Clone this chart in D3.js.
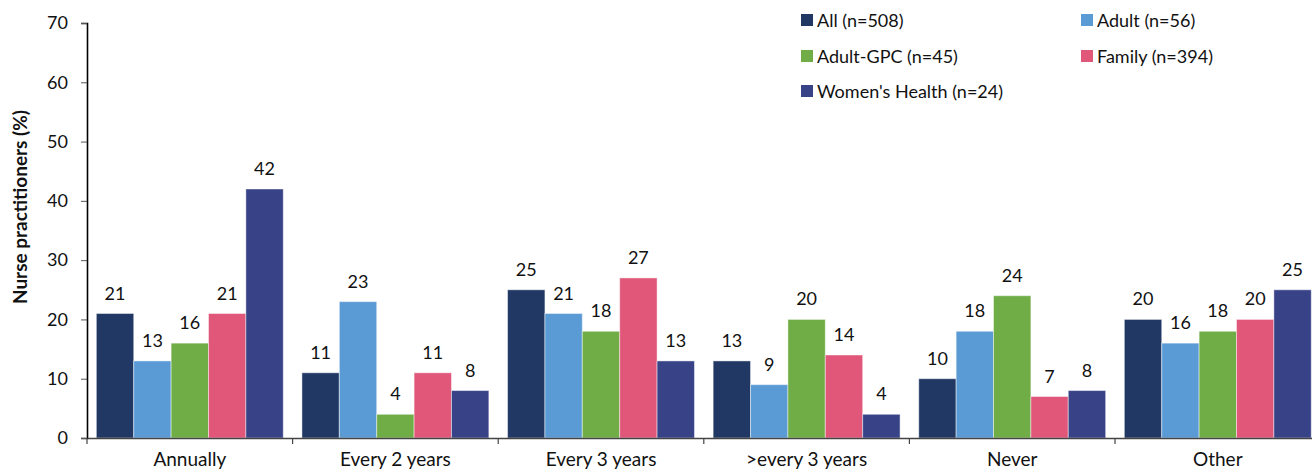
<!DOCTYPE html>
<html>
<head>
<meta charset="utf-8">
<script src="https://cdn.jsdelivr.net/npm/d3@7"></script>
<style>
  html, body { margin: 0; padding: 0; background: #fff; }
  svg { display: block; font-family: Lato, "Open Sans", "Liberation Sans", sans-serif; }
</style>
</head>
<body>
<svg id="chart" width="1312" height="472"></svg>
<script>
// Screening frequency by nurse practitioner specialty
const categories = ["Annually", "Every 2 years", "Every 3 years", ">every 3 years", "Never", "Other"];
const seriesNames = ["All (n=508)", "Adult (n=56)", "Adult-GPC (n=45)", "Family (n=394)", "Women's Health (n=24)"];
const allValues = [21, 11, 25, 13, 10, 20];
const adultValues = [13, 23, 21, 9, 18, 16];
const adultGpcValues = [16, 4, 18, 20, 24, 18];
const familyValues = [21, 11, 27, 14, 7, 20];
const womensHealthValues = [42, 8, 13, 4, 8, 25];
const yTicks = [0, 10, 20, 30, 40, 50, 60, 70];
const colors = ["#213865", "#5B9BD5", "#70AD47", "#E05779", "#374287"];

const seriesValues = [allValues, adultValues, adultGpcValues, familyValues, womensHealthValues];

const svg = d3.select("#chart");
const margin = { left: 87, top: 23 };
const plotRight = 1320.6;   // last category runs slightly past the canvas edge
const plotBottom = 438;
const fontStack = "Lato, 'Open Sans', sans-serif";

const x = d3.scaleBand().domain(categories).range([margin.left, plotRight]).paddingInner(0).paddingOuter(0);
const xInner = d3.scaleBand().domain(d3.range(seriesNames.length)).range([0, x.bandwidth()]).paddingOuter(0.25).paddingInner(0);
const y = d3.scaleLinear().domain([0, 70]).range([plotBottom, margin.top]);

// bars with value labels
const groups = svg.append("g").selectAll("g").data(categories).join("g")
  .attr("transform", d => `translate(${x(d)},0)`);

groups.each(function(cat, ci) {
  const g = d3.select(this);
  seriesValues.forEach((vals, si) => {
    const v = vals[ci];
    g.append("rect")
      .attr("x", xInner(si))
      .attr("y", y(v))
      .attr("width", xInner.bandwidth())
      .attr("height", y(0) - y(v))
      .attr("fill", colors[si])
      .attr("stroke", "rgba(255,255,255,0.45)")
      .attr("stroke-width", 1);
    g.append("text")
      .attr("x", xInner(si) + xInner.bandwidth() / 2)
      .attr("y", y(v) - 14)
      .attr("text-anchor", "middle")
      .attr("font-size", 18)
      .attr("fill", "#111")
      .text(v);
  });
});

// y axis
const yAxis = svg.append("g")
  .attr("transform", `translate(${margin.left},0)`)
  .call(d3.axisLeft(y).tickValues(yTicks).tickSize(6).tickPadding(13));
yAxis.select(".domain").attr("stroke", "#000").attr("stroke-width", 1.6);
yAxis.selectAll(".tick line").attr("stroke", "#555");
yAxis.selectAll(".tick text").attr("font-size", 18).attr("fill", "#111").attr("font-family", fontStack);

// x axis
const xAxis = svg.append("g")
  .attr("transform", `translate(0,${plotBottom})`)
  .call(d3.axisBottom(x).tickSize(0).tickPadding(15));
xAxis.select(".domain").attr("stroke", "#444").attr("stroke-width", 1.5);
xAxis.selectAll(".tick text").attr("font-size", 19).attr("fill", "#111").attr("font-family", fontStack);
// ticks at category boundaries
const bounds = categories.map(c => x(c));
svg.append("g").selectAll("line").data(bounds).join("line")
  .attr("x1", d => d).attr("x2", d => d)
  .attr("y1", plotBottom).attr("y2", plotBottom + 6)
  .attr("stroke", "#444").attr("stroke-width", 1.2);

// y axis title
svg.append("text")
  .attr("transform", `translate(27,207) rotate(-90)`)
  .attr("text-anchor", "middle")
  .attr("font-size", 19)
  .attr("font-weight", "bold")
  .attr("fill", "#111")
  .text("Nurse practitioners (%)");

// legend
const legendPos = [
  [801, 20], [1081, 20],
  [801, 56], [1081, 56],
  [801, 91]
];
const legend = svg.append("g").selectAll("g").data(seriesNames).join("g")
  .attr("transform", (d, i) => `translate(${legendPos[i][0]},${legendPos[i][1]})`);
legend.append("rect")
  .attr("x", 0).attr("y", -6).attr("width", 12).attr("height", 12)
  .attr("fill", (d, i) => colors[i]);
legend.append("text")
  .attr("x", 16).attr("y", 6.5)
  .attr("font-size", 18)
  .attr("fill", "#111")
  .text(d => d);
</script>
</body>
</html>
